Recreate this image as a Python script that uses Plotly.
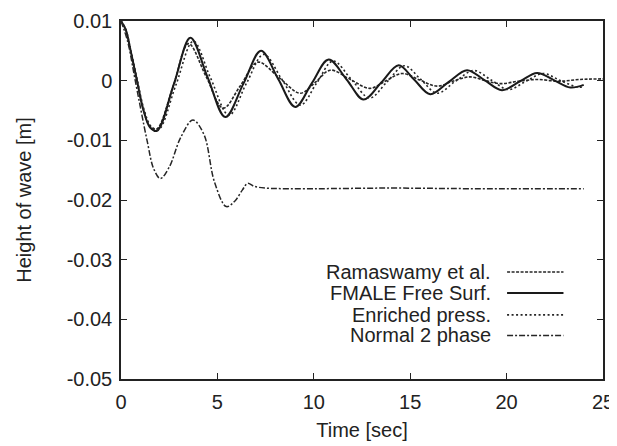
import plotly.graph_objects as go

# ---- data (height in metres, time in seconds) ----
t_ram = [0, 0.25, 0.5, 0.83, 1.17, 1.5, 1.85, 2.7, 3.5, 4.4, 5.3, 6.2, 7.1, 8.2, 9.3, 10.1, 10.86, 11.9, 12.9, 13.7, 14.57, 15.5, 16.4, 17.2, 18.1, 18.9, 19.7, 20.6, 21.6, 22.7, 23.8, 25.0]
y_ram = [0.0100, 0.0085, 0.0050, 0.0000, -0.0050, -0.0076, -0.0081, -0.0010, 0.0062, 0.0008, -0.0046, -0.0008, 0.0031, 0.0005, -0.0021, -0.0002, 0.00176, 0.0002, -0.0013, -0.0001, 0.0012, 0.0001, -0.00092, -0.0001, 0.00064, 0.0000, -0.0005, -0.0001, 0.0002, -0.0001, 0.0002, 0.0003]

t_fmale = [0, 0.25, 0.5, 0.83, 1.17, 1.5, 1.87, 2.75, 3.6, 4.5, 5.41, 6.35, 7.26, 8.15, 9.04, 9.9, 10.77, 11.7, 12.58, 13.5, 14.4, 15.2, 16.04, 17.0, 17.95, 18.85, 19.76, 20.7, 21.58, 22.45, 23.3, 24.0]
y_fmale = [0.0100, 0.0085, 0.0050, 0.0000, -0.0050, -0.0078, -0.0084, -0.0005, 0.0072, 0.0005, -0.0061, -0.0005, 0.0050, 0.0003, -0.0044, -0.0004, 0.00355, 0.0002, -0.00315, -0.0003, 0.0026, 0.0002, -0.00226, -0.0002, 0.00176, 0.0001, -0.00159, -0.0001, 0.0013, 0.0001, -0.00114, -0.0007]

t_enr = [0, 0.25, 0.5, 0.85, 1.2, 1.55, 1.95, 2.85, 3.75, 4.65, 5.6, 6.5, 7.4, 8.35, 9.3, 10.15, 11.0, 11.95, 12.9, 13.8, 14.7, 15.55, 16.4, 17.35, 18.3, 19.2, 20.1, 21.0, 21.9, 22.8, 23.7, 24.0]
y_enr = [0.0100, 0.0086, 0.0052, 0.0000, -0.0049, -0.0076, -0.0082, -0.0007, 0.0066, 0.0004, -0.0058, -0.0005, 0.0044, 0.0002, -0.0041, -0.0004, 0.0033, 0.0002, -0.0029, -0.0002, 0.0025, 0.0002, -0.0021, -0.0001, 0.0017, 0.0001, -0.0015, -0.0001, 0.0012, 0.0000, -0.0011, -0.0010]

t_norm = [0, 0.35, 0.74, 1.35, 1.7, 2.04, 2.5, 3.1, 3.73, 4.3, 4.85, 5.46, 5.9, 6.3, 6.57, 6.9, 7.5, 10.0, 14.0, 18.0, 24.0]
y_norm = [0.0100, 0.0065, 0.0000, -0.0100, -0.0148, -0.0164, -0.0145, -0.0095, -0.0066, -0.0090, -0.0170, -0.0211, -0.0202, -0.0183, -0.0172, -0.0177, -0.0180, -0.0181, -0.0180, -0.0181, -0.0181]

names = ["Ramaswamy et al.", "FMALE Free Surf.", "Enriched press.", "Normal 2 phase"]
dashes = ["3px,1.5px", "solid", "2px,2.5px", "6px,2px,2px,2px"]
widths = [1.6, 2.0, 1.6, 1.5]
colors = ["#262626", "#1a1a1a", "#262626", "#262626"]

series = [(t_ram, y_ram), (t_fmale, y_fmale), (t_enr, y_enr), (t_norm, y_norm)]

FONT = "Liberation Sans, Arial, sans-serif"

fig = go.Figure()
for (tx, ty), nm, ds, w, c in zip(series, names, dashes, widths, colors):
    fig.add_trace(go.Scatter(x=tx, y=ty, mode="lines", name=nm,
                             line=dict(color=c, width=w, dash=ds, shape="spline", smoothing=1.0),
                             showlegend=False))

# custom gnuplot-style legend: text on left, line sample on right
leg_y = [0.299, 0.240, 0.179, 0.1216]
for nm, ds, w, c, yy in zip(names, dashes, widths, colors, leg_y):
    fig.add_annotation(x=0.772, y=yy, xref="paper", yref="paper", text=nm,
                       showarrow=False, xanchor="right", yanchor="middle",
                       font=dict(family=FONT, size=20, color="#222"))
    fig.add_shape(type="line", xref="paper", yref="paper", x0=0.801, x1=0.918, y0=yy, y1=yy,
                  line=dict(color=c, width=w, dash=ds))

axis_common = dict(showgrid=False, zeroline=False, showline=True, linecolor="#222", linewidth=1.5,
                   mirror="ticks", ticks="inside", ticklen=6, tickwidth=1, tickcolor="#222",
                   tickfont=dict(family=FONT, size=20, color="#222"))

fig.update_xaxes(range=[0, 25], tickvals=[0, 5, 10, 15, 20, 25], ticktext=["0", "5", "10", "15", "20", "25"],
                 ticklabelstandoff=4,
                 title=dict(text="Time [sec]", font=dict(family=FONT, size=20, color="#222"), standoff=11),
                 **axis_common)
fig.update_yaxes(range=[-0.05, 0.01], tickvals=[0.01, 0, -0.01, -0.02, -0.03, -0.04, -0.05],
                 ticktext=["0.01", "0", "-0.01", "-0.02", "-0.03", "-0.04", "-0.05"],
                 ticklabelstandoff=3,
                 title=dict(text="Height of wave [m]", font=dict(family=FONT, size=20, color="#222"), standoff=30),
                 **axis_common)

# page body has an 8px default margin, so the figure is sized/offset to compensate
fig.update_layout(width=609, height=438, margin=dict(l=113, r=14, t=13, b=67, autoexpand=False),
                  plot_bgcolor="white", paper_bgcolor="white", showlegend=False,
                  font=dict(family=FONT, size=20, color="#222"))

fig.write_html("out.html")
